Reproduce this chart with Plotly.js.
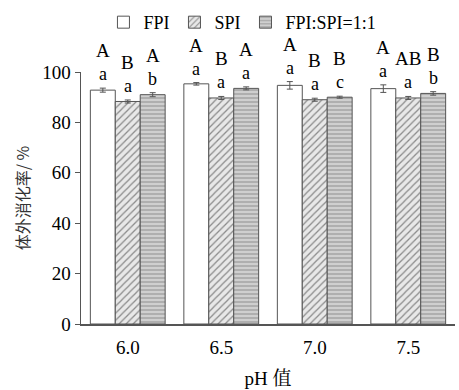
<!DOCTYPE html>
<html><head><meta charset="utf-8">
<script src="https://cdn.plot.ly/plotly-3.0.1.min.js"></script>
<style>html,body{margin:0;padding:0;background:#fff}#chart{width:459px;height:390px}</style>
</head><body><div id="chart"></div>
<script>
const categories = ['6.0', '6.5', '7.0', '7.5'];
const seriesNames = ['FPI', 'SPI', 'FPI:SPI=1:1'];
const fpiValues = [92.8, 95.3, 94.7, 93.4];
const spiValues = [88.3, 89.7, 89.0, 89.7];
const mixValues = [91.0, 93.5, 90.0, 91.5];
const fpiErr = [0.8, 0.5, 1.5, 1.5];
const spiErr = [0.6, 0.6, 0.6, 0.6];
const mixErr = [0.8, 0.6, 0.4, 0.7];
const fpiUpper = ['A', 'A', 'A', 'A'];
const spiUpper = ['B', 'B', 'B', 'AB'];
const mixUpper = ['A', 'A', 'B', 'B'];
const fpiLower = ['a', 'a', 'a', 'a'];
const spiLower = ['a', 'a', 'a', 'a'];
const mixLower = ['b', 'a', 'c', 'b'];
const yTicks = [0, 20, 40, 60, 80, 100];

const serif = 'Liberation Serif, Times New Roman, serif';
const lineCol = '#555';
const bargap = 0.2;

const series = [
  {name: seriesNames[0], y: fpiValues, err: fpiErr, up: fpiUpper, lo: fpiLower,
   marker: {color: '#ffffff', line: {color: lineCol, width: 1}}},
  {name: seriesNames[1], y: spiValues, err: spiErr, up: spiUpper, lo: spiLower,
   marker: {color: '#ffffff', line: {color: lineCol, width: 1},
            pattern: {shape: '/', fgcolor: '#8a8a8a', bgcolor: '#e8e8e8', size: 5, solidity: 0.25}}},
  {name: seriesNames[2], y: mixValues, err: mixErr, up: mixUpper, lo: mixLower,
   marker: {color: '#ffffff', line: {color: lineCol, width: 1},
            pattern: {shape: '-', fgcolor: '#9a9a9a', bgcolor: '#cfcfcf', size: 4, solidity: 0.3}}}
];

const traces = series.map(s => ({
  type: 'bar', name: s.name, x: categories, y: s.y,
  marker: s.marker,
  error_y: {type: 'data', array: s.err, visible: true, color: lineCol, thickness: 1, width: 3}
}));

const annotations = [];
const n = series.length;
const bw = (1 - bargap) / n;
series.forEach((s, j) => {
  const off = (j - (n - 1) / 2) * bw;
  categories.forEach((c, i) => {
    const top = s.y[i] + s.err[i];
    annotations.push({x: i + off, y: top, xref: 'x', yref: 'y', text: s.lo[i], showarrow: false,
      yanchor: 'bottom', yshift: 2, font: {family: serif, size: 18, color: '#000'}});
    annotations.push({x: i + off, y: top, xref: 'x', yref: 'y', text: s.up[i], showarrow: false,
      yanchor: 'bottom', yshift: 25, font: {family: serif, size: 19, color: '#000'}});
  });
});

const layout = {
  width: 459, height: 390,
  margin: {l: 81, r: 4, t: 68, b: 66},
  paper_bgcolor: '#fff', plot_bgcolor: '#fff',
  barmode: 'group', bargap: bargap, bargroupgap: 0,
  showlegend: true,
  legend: {orientation: 'h', x: 0.06, xanchor: 'left', y: 1.27, yanchor: 'top',
    font: {family: serif, size: 18, color: '#000'}, itemwidth: 30, tracegroupgap: 0},
  xaxis: {type: 'category', range: [-0.5, 3.5], showline: true, linecolor: lineCol, linewidth: 1.5,
    ticks: '', ticklabelstandoff: 6, tickfont: {family: serif, size: 19, color: '#000'},
    title: {text: 'pH 值', font: {family: serif + ', Noto Serif CJK SC, Noto Sans CJK SC', size: 19, color: '#000'}, standoff: 14}},
  yaxis: {range: [0, 100], tickvals: yTicks, showline: true, linecolor: lineCol, linewidth: 1.5,
    ticks: 'outside', ticklen: 5, tickcolor: lineCol, showgrid: false, zeroline: false,
    tickfont: {family: serif, size: 19, color: '#000'},
    title: {text: '体外消化率/ %', font: {family: 'Noto Sans CJK SC', size: 16, color: '#333'}, standoff: 8}},
  annotations: annotations
};

Plotly.newPlot('chart', traces, layout, {displayModeBar: false, staticPlot: true});
</script></body></html>
